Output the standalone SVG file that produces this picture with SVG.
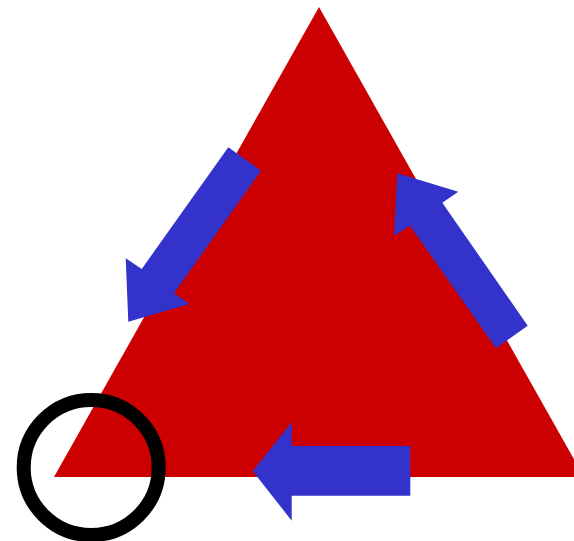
<svg xmlns="http://www.w3.org/2000/svg" width="574" height="541" viewBox="0 0 574 541">
<style>
.tri{fill:#cc0000}
.arrow{fill:#3333cc}
.ring{fill:none;stroke:#000;stroke-width:14}
</style>
<rect width="574" height="541" fill="#fff"/>
<g id="triangle"><polygon class="tri" points="319,7 54,477 584,477"/></g>
<g id="connectors">
<polygon class="arrow" points="228.3,147.3 261,170.7 174,293.3 189.3,304 128.3,321.7 125.7,258.3 141.7,269"/>
<polygon class="arrow" points="397.3,173.3 458.3,191.7 442.3,202.7 527.7,325.7 496,348.3 410,225.7 394,235.7"/>
<polygon class="arrow" points="410.3,446 291.7,446 291.7,422.3 252.7,471 291.7,520.7 291.7,495.7 410.3,495.7"/>
</g>
<g id="circle"><circle class="ring" cx="91.2" cy="467.5" r="67.5"/></g>
</svg>
